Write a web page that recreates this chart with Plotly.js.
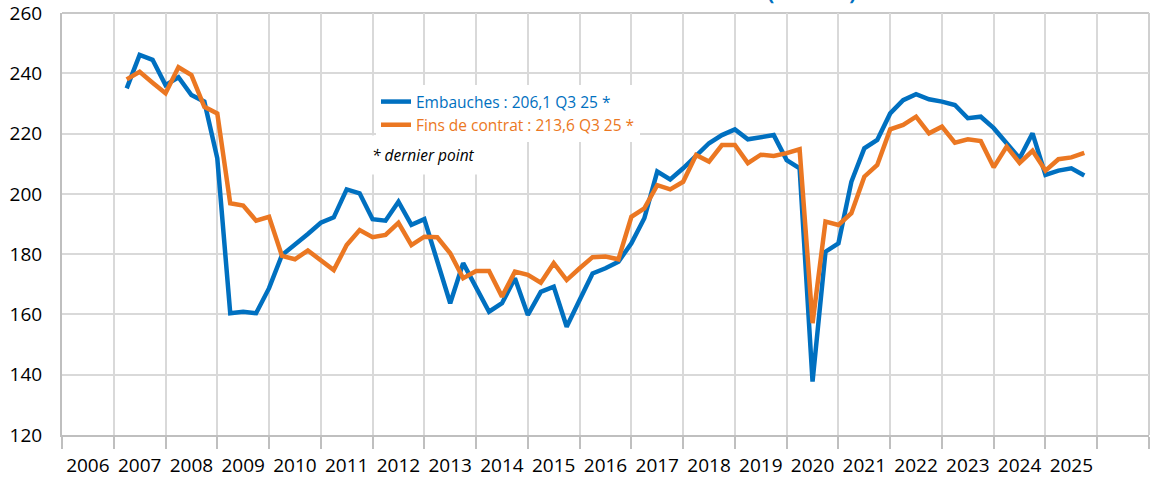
<!DOCTYPE html>
<html>
<head>
<meta charset="utf-8">
<script src="https://cdn.plot.ly/plotly-3.0.1.min.js"></script>
<style>
  html, body { margin: 0; padding: 0; background: #ffffff; }
  #chart { width: 1152px; height: 477px; }
</style>
</head>
<body>
<div id="chart"></div>
<script>
// Quarter labels, 2007 Q1 .. 2025 Q3
const years = [2007,2008,2009,2010,2011,2012,2013,2014,2015,2016,2017,2018,2019,2020,2021,2022,2023,2024,2025];
const quarterLabels = [];
years.forEach(y => { [1,2,3,4].forEach(q => { if (!(y === 2025 && q === 4)) quarterLabels.push(y + "-Q" + q); }); });

// Embauches (milliers)
const embauches = [
  235.0, 246.1, 244.5, 236.1,
  238.7, 232.8, 230.6, 211.8,
  160.4, 160.9, 160.4, 168.7,
  179.7, 183.0, 186.7, 190.4,
  192.2, 201.5, 200.2, 191.6,
  191.1, 197.4, 189.7, 191.6,
  177.0, 163.7, 177.0, 169.2,
  160.9, 163.7, 172.0, 159.8,
  167.5, 169.2, 155.9, 164.8,
  173.6, 175.3, 177.5, 183.6,
  191.9, 207.4, 204.8, 208.5,
  212.9, 216.8, 219.5, 221.4,
  218.1, 218.9, 219.5, 211.2,
  208.5, 137.7, 180.8, 183.6,
  204.0, 215.1, 217.9, 226.7,
  231.1, 233.1, 231.4, 230.6,
  229.5, 225.1, 225.6, 221.8,
  216.8, 211.8, 220.1, 206.3,
  207.7, 208.5, 206.1
];

// Fins de contrat (milliers)
const finsContrat = [
  238.0, 240.5, 236.9, 233.4,
  242.0, 239.4, 228.9, 226.7,
  196.9, 196.1, 191.1, 192.4,
  179.4, 178.3, 181.2, 177.8,
  174.7, 183.0, 188.0, 185.6,
  186.4, 190.4, 183.0, 185.8,
  185.6, 180.3, 172.0, 174.4,
  174.4, 165.9, 174.2, 173.1,
  170.5, 177.0, 171.4, 175.3,
  179.0, 179.2, 178.3, 192.4,
  195.2, 202.9, 201.5, 204.0,
  212.9, 210.7, 216.2, 216.2,
  210.2, 213.0, 212.6, 213.5,
  214.8, 157.1, 190.8, 189.7,
  193.6, 205.7, 209.6, 221.4,
  222.9, 225.6, 220.1, 222.3,
  217.0, 218.1, 217.5, 208.8,
  215.7, 210.3, 214.3, 207.7,
  211.5, 212.1, 213.6
];

const axisYears = [2006,2007,2008,2009,2010,2011,2012,2013,2014,2015,2016,2017,2018,2019,2020,2021,2022,2023,2024,2025];
const yTicks = [120, 140, 160, 180, 200, 220, 240, 260];
const seriesNames = ["Embauches : 206,1 Q3 25 *", "Fins de contrat : 213,6 Q3 25 *"];
const noteText = "* dernier point";
const titleText = "Embauches et fins de contrat (milliers)";

// position of a quarter = end of the quarter on a continuous year axis
const xPos = quarterLabels.map(s => { const p = s.split("-Q"); return Number(p[0]) + Number(p[1]) / 4; });

const BLUE = "#0070C0", ORANGE = "#EB7722";
const FONT = "Open Sans, Noto Sans, sans-serif";

const traces = [
  { x: xPos, y: embauches, type: "scatter", mode: "lines", name: seriesNames[0],
    line: { color: BLUE, width: 4.5 }, hoverinfo: "skip" },
  { x: xPos, y: finsContrat, type: "scatter", mode: "lines", name: seriesNames[1],
    line: { color: ORANGE, width: 4.5 }, hoverinfo: "skip" }
];

const layout = {
  width: 1152, height: 477,
  margin: { l: 62, r: 3, t: 13, b: 42 },
  paper_bgcolor: "#ffffff", plot_bgcolor: "#ffffff",
  font: { family: FONT, color: "#000000" },
  showlegend: true,
  title: { text: "<b>" + titleText + "</b>", font: { family: FONT, size: 20, color: BLUE },
           xref: "container", yref: "container", x: 856 / 1152, xanchor: "right", y: 1, yanchor: "bottom" },
  xaxis: {
    range: [2006, 2027], fixedrange: true,
    tickmode: "array", tickvals: axisYears.map(y => y + 0.5), ticktext: axisYears.map(String),
    ticks: "outside", ticklen: 12, tickcolor: "rgba(0,0,0,0)", ticklabeloverflow: "allow",
    tickfont: { family: FONT, size: 19, color: "#000000" },
    showgrid: false, zeroline: false,
    showline: true, linecolor: "#bfbfbf", linewidth: 2,
    minor: { tick0: 2006, dtick: 1, showgrid: true, gridcolor: "#d9d9d9", gridwidth: 2,
             ticks: "outside", ticklen: 12, tickcolor: "#bfbfbf", tickwidth: 2 }
  },
  yaxis: {
    range: [119.98, 260.02], fixedrange: true, tickmode: "array", tickvals: yTicks, ticktext: yTicks.map(String),
    ticks: "outside", ticklen: 14, tickcolor: "rgba(0,0,0,0)", ticklabeloverflow: "allow",
    tickfont: { family: FONT, size: 19, color: "#000000" },
    showgrid: true, gridcolor: "#d9d9d9", gridwidth: 2, zeroline: false,
    showline: true, linecolor: "#bfbfbf", linewidth: 2
  },
  legend: {
    x: (376 - 62) / 1087, y: (435 - 85) / 422, xanchor: "left", yanchor: "top",
    bgcolor: "#ffffff", borderwidth: 0, tracegroupgap: 0,
    font: { family: FONT, size: 15.5 }
  },
  annotations: [
    { text: "<i>" + noteText + "</i>", xref: "paper", yref: "paper",
      x: (363 - 62) / 1087, y: (435 - 155) / 422, xanchor: "left", yanchor: "middle",
      showarrow: false, bgcolor: "#ffffff", borderpad: 8,
      font: { family: FONT, size: 15.5, color: "#000000" } }
  ],
  shapes: [
    { type: "line", xref: "paper", yref: "paper", x0: 0, x1: 1, y0: 1, y1: 1,
      line: { color: "#c8c8c8", width: 2 }, layer: "below" },
    { type: "line", xref: "paper", yref: "paper", x0: 1, x1: 1, y0: 0, y1: 1,
      line: { color: "#d0d0d0", width: 2 }, layer: "below" }
  ]
};

Plotly.newPlot("chart", traces, layout, { staticPlot: true, displayModeBar: false });
</script>
<script>
(function(){
  const gd = document.getElementById("chart");
  function colorLegend(){
    const texts = gd.querySelectorAll(".legendtext");
    const cols = ["#0070C0", "#EB7722"];
    texts.forEach((t, i) => { t.style.fill = cols[i] || "#000"; });
  }
  colorLegend();
  gd.on && gd.on("plotly_afterplot", colorLegend);
})();
</script>
</body>
</html>
